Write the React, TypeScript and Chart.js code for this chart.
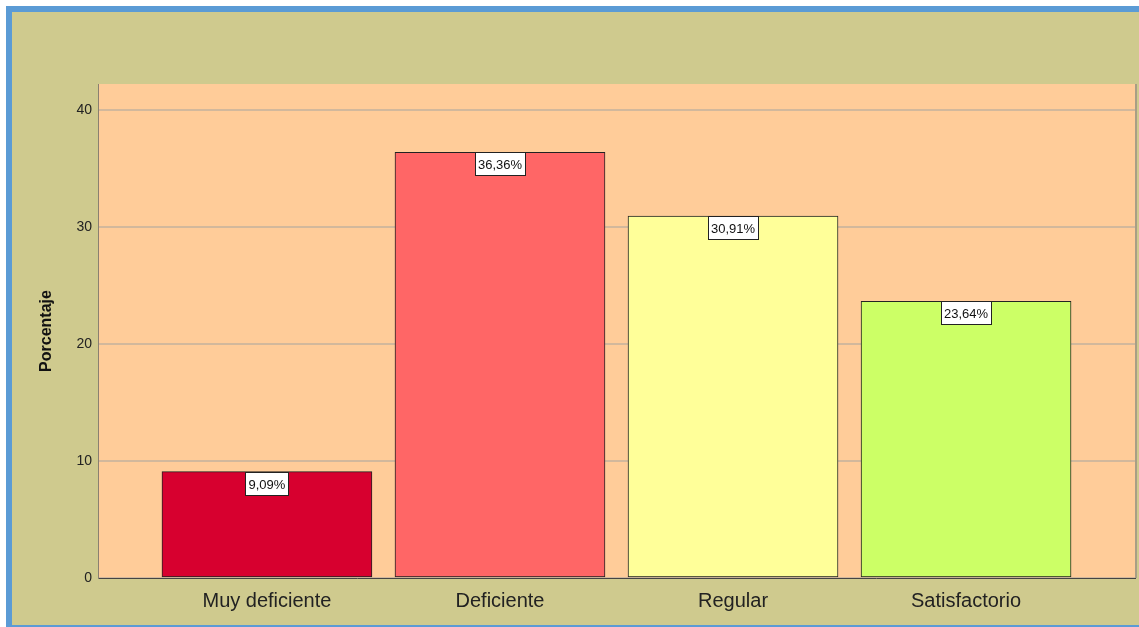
import React, { useEffect, useRef } from "react";
import { Chart, registerables } from "chart.js";

Chart.register(...registerables);

const categories = ["Muy deficiente", "Deficiente", "Regular", "Satisfactorio"];
const percentages = [9.09, 36.36, 30.91, 23.64];
const valueLabels = ["9,09%", "36,36%", "30,91%", "23,64%"];
const barColors = ["#D7002F", "#FF6666", "#FFFF99", "#CCFF66"];
const yTicks = [0, 10, 20, 30, 40];

const FONT = "'Liberation Sans', Arial, sans-serif";

const plotBg = {
  id: "plotBg",
  beforeDraw(chart: any) {
    const { ctx, chartArea: a } = chart;
    ctx.save();
    ctx.fillStyle = "#FFCC99";
    ctx.fillRect(a.left, a.top, a.right - a.left, a.bottom - a.top);
    ctx.strokeStyle = "#A89E86";
    ctx.lineWidth = 2;
    ctx.beginPath();
    ctx.moveTo(a.right + 1, a.top);
    ctx.lineTo(a.right + 1, a.bottom);
    ctx.stroke();
    ctx.restore();
  },
};

const boxLabels = {
  id: "boxLabels",
  afterDatasetsDraw(chart: any) {
    const { ctx } = chart;
    const meta = chart.getDatasetMeta(0);
    ctx.save();
    ctx.font = `13px ${FONT}`;
    ctx.textAlign = "center";
    ctx.textBaseline = "middle";
    meta.data.forEach((bar: any, i: number) => {
      const text = valueLabels[i];
      const w = Math.round(ctx.measureText(text).width) + 6;
      const h = 23;
      const x = Math.round(bar.x - w / 2) + 0.5;
      const y = Math.round(bar.y) + 0.5;
      ctx.fillStyle = "#FFFFFF";
      ctx.fillRect(x, y, w, h);
      ctx.strokeStyle = "#222222";
      ctx.lineWidth = 1;
      ctx.strokeRect(x, y, w, h);
      ctx.fillStyle = "#111111";
      ctx.fillText(text, bar.x, y + h / 2 + 1);
    });
    ctx.restore();
  },
};

export default function App() {
  const ref = useRef<HTMLCanvasElement | null>(null);

  useEffect(() => {
    document.body.style.margin = "0";
    if (!ref.current) return;
    const chart = new Chart(ref.current, {
      type: "bar",
      data: {
        datasets: [
          {
            data: percentages.map((v, i) => ({ x: i, y: v })),
            backgroundColor: barColors,
            borderColor: "#222222",
            borderWidth: 1,
            borderSkipped: false,
            barThickness: 210,
          } as any,
        ],
      },
      options: {
        responsive: false,
        animation: false,
        devicePixelRatio: 1,
        layout: { padding: { top: 84, right: 4, left: 0, bottom: 0 } },
        plugins: { legend: { display: false }, tooltip: { enabled: false } },
        scales: {
          x: {
            type: "linear",
            offset: false,
            min: -0.725,
            max: 3.725,
            grid: { display: false, drawTicks: false, offset: false },
            border: { display: true, color: "#444444", width: 1 },
            afterBuildTicks: (scale: any) => {
              scale.ticks = categories.map((_, i) => ({ value: i }));
            },
            afterFit: (scale: any) => {
              scale.height = 49;
            },
            ticks: {
              autoSkip: false,
              maxRotation: 0,
              padding: 11,
              color: "#222222",
              font: { family: FONT, size: 20 },
              callback: (v: any) => categories[v as number] ?? "",
            },
          },
          y: {
            min: 0,
            max: 42.2,
            afterBuildTicks: (scale: any) => {
              scale.ticks = yTicks.map((v) => ({ value: v }));
            },
            afterFit: (scale: any) => {
              scale.width = 98;
            },
            grid: { color: "#D2B89C", lineWidth: 2, drawTicks: false },
            border: { display: true, color: "#8A8070", width: 1 },
            ticks: {
              padding: 6,
              color: "#222222",
              font: { family: FONT, size: 14 },
              callback: (v: any) => String(v),
            },
            title: {
              display: true,
              text: "Porcentaje",
              color: "#111111",
              font: { family: FONT, size: 16, weight: "bold" },
              padding: { top: 37, bottom: 0 },
            },
          },
        },
      } as any,
      plugins: [plotBg, boxLabels],
    });
    return () => chart.destroy();
  }, []);

  return (
    <div style={{ position: "relative", width: 1139, height: 627, background: "#FFFFFF", overflow: "hidden" }}>
      <div
        style={{
          position: "absolute",
          left: 6,
          top: 6,
          width: 1133,
          height: 621,
          boxSizing: "border-box",
          background: "#CFCA8E",
          borderLeft: "6px solid #5B9BD5",
          borderTop: "6px solid #5B9BD5",
          borderBottom: "2px solid #5B9BD5",
        }}
      />
      <canvas
        ref={ref}
        width={1139}
        height={627}
        style={{ position: "absolute", left: 0, top: 0, width: 1139, height: 627 }}
      />
    </div>
  );
}
